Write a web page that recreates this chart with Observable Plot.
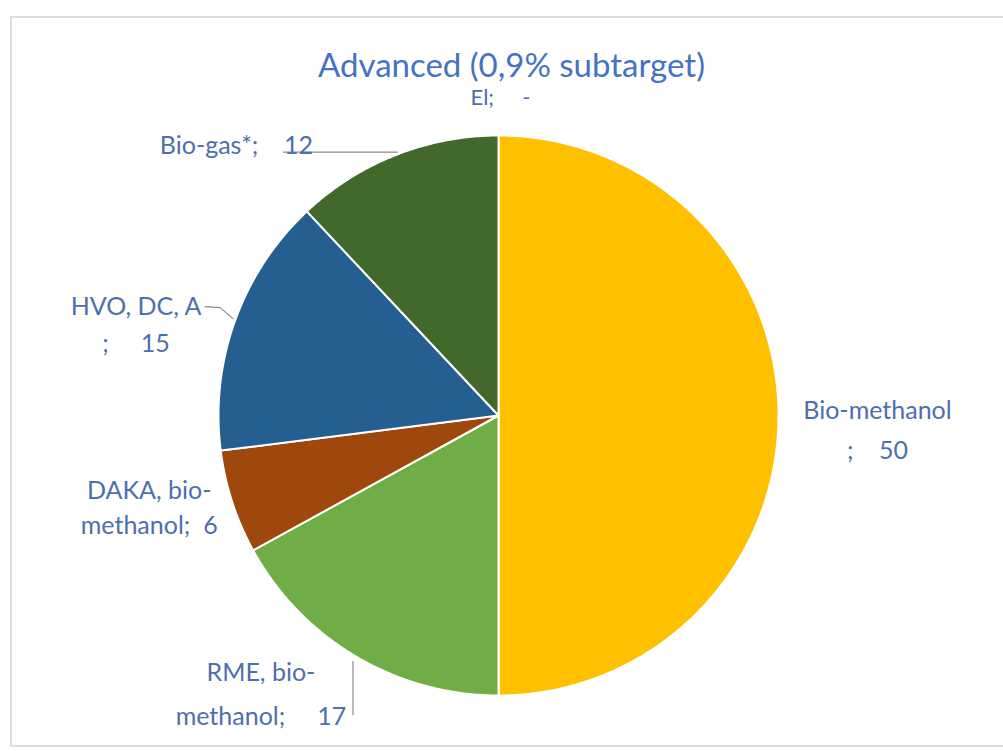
<!DOCTYPE html>
<html>
<head>
<meta charset="utf-8">
<script src="https://cdn.jsdelivr.net/npm/d3@7"></script>
<script src="https://cdn.jsdelivr.net/npm/@observablehq/plot@0.6"></script>
<style>
  html, body { margin: 0; padding: 0; background: #fff; }
  #wrap { position: relative; width: 1003px; height: 751px; overflow: hidden; font-family: Lato, "Open Sans", sans-serif; }
  #frame { position: absolute; left: 10px; top: 16px; width: 1010px; height: 731px; border: 2px solid #dcdcdc; box-sizing: border-box; }
  #title { position: absolute; left: 0; width: 1023px; top: 44px; text-align: center; font-size: 33px; color: #4472C4; line-height: 40px; }
  #chart { position: absolute; left: 0; top: 0; }
  #chart text { white-space: pre; }
</style>
</head>
<body>
<div id="wrap">
  <div id="frame"></div>
  <div id="chart"></div>
  <div id="title">Advanced (0,9% subtarget)</div>
</div>
<script>
// ---- data ----
const categories = ["Bio-methanol", "RME, bio-methanol", "DAKA, bio-methanol", "HVO, DC, A", "Bio-gas*", "El"];
const values = [50, 17, 6, 15, 12, 0];
const valueLabels = ["50", "17", "6", "15", "12", "-"];
const labelLines = [
  ["Bio-methanol", ";    " + valueLabels[0]],
  ["RME, bio-", "methanol;     " + valueLabels[1]],
  ["DAKA, bio-", "methanol;  " + valueLabels[2]],
  ["HVO, DC, A", ";     " + valueLabels[3]],
  ["Bio-gas*;    " + valueLabels[4]],
  ["El;     " + valueLabels[5]]
];
const colors = ["#FFC000", "#70AD47", "#9E480E", "#255E91", "#43682B", "#4472C4"];

// ---- layout (pixels) ----
const cx = 498, cy = 415, R = 280;
// label centre offsets (first line) from each slice's outer mid point, line gap, font size
const labelLayout = [
  {dx: 99, dy: -5, gap: 40, size: 25},
  {dx: -95, dy: 16, gap: 44, size: 25},
  {dx: -83, dy: -11, gap: 35, size: 25},
  {dx: -99, dy: -14, gap: 37, size: 25},
  {dx: -159, dy: -9, gap: 0, size: 25},
  {dx: 2, dy: -38, gap: 0, size: 22}
];
// leader line offsets from slice outer mid point
const leaderLayout = [
  null,
  [[-3, 5], [-3, 58]],
  null,
  [[-30, -14], [-15, -13], [-2, -2]],
  [[-112, -3], [2, -3]],
  null
];

// ---- build geometry from values ----
const total = d3.sum(values);
let acc = 0;
const slices = values.map((v, i) => {
  const a0 = acc / total * 2 * Math.PI;
  acc += v;
  const a1 = acc / total * 2 * Math.PI;
  return {name: categories[i], a0, a1, mid: (a0 + a1) / 2, i};
});
const pt = (a, r) => [Math.sin(a) * r, Math.cos(a) * r]; // unit coords, y up

const sliceRows = [];
for (const s of slices) {
  if (s.a1 - s.a0 <= 0) continue;
  sliceRows.push({name: s.name, x: 0, y: 0});
  const n = Math.max(2, Math.ceil((s.a1 - s.a0) / (Math.PI / 360)));
  for (let k = 0; k <= n; k++) {
    const a = s.a0 + (s.a1 - s.a0) * k / n;
    const [x, y] = pt(a, 1);
    sliceRows.push({name: s.name, x, y});
  }
  sliceRows.push({name: s.name, x: 0, y: 0});
}

const textRows = [];
const leaderRows = [];
slices.forEach((s, i) => {
  const [ex, ey] = pt(s.mid, 1);
  const L = labelLayout[i];
  labelLines[i].forEach((line, j) => {
    textRows.push({text: line, size: L.size, x: ex + L.dx / R, y: ey - (L.dy + j * L.gap) / R});
  });
  if (leaderLayout[i]) {
    leaderRows.push(...leaderLayout[i].map(([dx, dy]) => ({name: s.name, x: ex + dx / R, y: ey - dy / R})));
  }
});

const chart = Plot.plot({
  width: 1003,
  height: 751,
  margin: 0,
  x: {domain: [-1, 1], range: [cx - R, cx + R], axis: null},
  y: {domain: [-1, 1], range: [cy + R, cy - R], axis: null},
  color: {domain: categories, range: colors},
  style: {background: "transparent", fontFamily: "Lato, 'Open Sans', sans-serif"},
  marks: [
    Plot.line(sliceRows, {x: "x", y: "y", z: "name", fill: "name", stroke: "white", strokeWidth: 2, strokeLinejoin: "round"}),
    Plot.line(leaderRows, {x: "x", y: "y", z: "name", stroke: "#8c8c8c", strokeWidth: 1.2}),
    Plot.text(textRows.filter(d => d.size === 25), {x: "x", y: "y", text: "text", fill: "#4d6fae", fontSize: 25, textAnchor: "middle"}),
    Plot.text(textRows.filter(d => d.size !== 25), {x: "x", y: "y", text: "text", fill: "#4d6fae", fontSize: 22, textAnchor: "middle"})
  ]
});
document.getElementById("chart").appendChild(chart);
</script>
</body>
</html>
